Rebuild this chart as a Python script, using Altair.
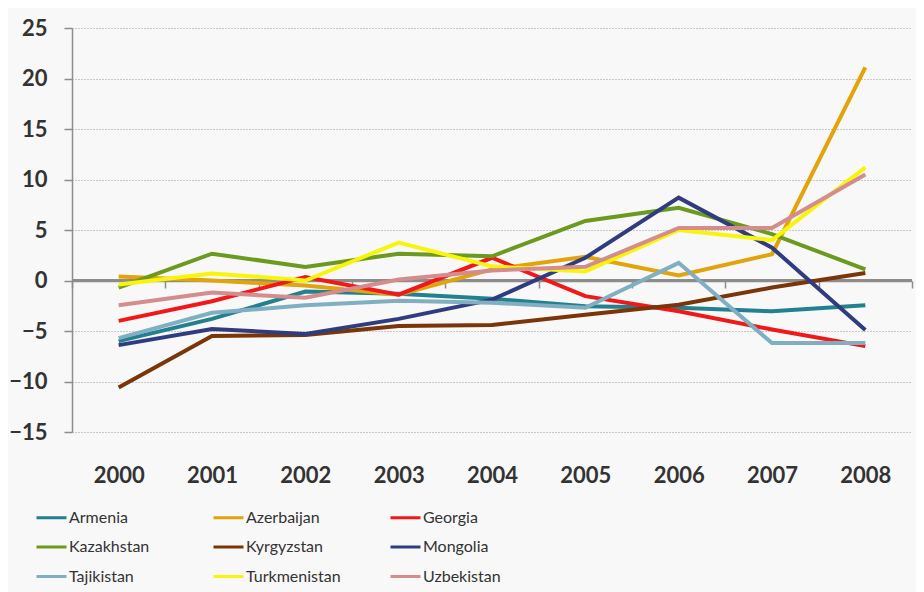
import altair as alt
import pandas as pd

years = ["2000", "2001", "2002", "2003", "2004", "2005", "2006", "2007", "2008"]
countries = ["Armenia", "Azerbaijan", "Georgia", "Kazakhstan", "Kyrgyzstan",
             "Mongolia", "Tajikistan", "Turkmenistan", "Uzbekistan"]
colors = ["#23808E", "#E3A30B", "#F01818", "#6B9A1F", "#7A3508",
          "#2F3D7E", "#7FAFC1", "#F8F40A", "#D48C8C"]

armenia = [-6.0, -3.8, -1.1, -1.3, -1.8, -2.55, -2.7, -3.05, -2.45]
azerbaijan = [0.4, 0.0, -0.5, -1.4, 1.1, 2.35, 0.5, 2.6, 21.1]
georgia = [-4.0, -2.05, 0.35, -1.4, 2.25, -1.55, -3.05, -4.85, -6.5]
kazakhstan = [-0.7, 2.65, 1.35, 2.65, 2.4, 5.9, 7.2, 4.6, 1.1]
kyrgyzstan = [-10.6, -5.5, -5.4, -4.5, -4.4, -3.4, -2.4, -0.7, 0.75]
mongolia = [-6.4, -4.8, -5.3, -3.8, -1.9, 2.25, 8.2, 3.25, -4.9]
tajikistan = [-5.7, -3.2, -2.45, -2.0, -2.2, -2.7, 1.75, -6.2, -6.2]
turkmenistan = [-0.4, 0.7, 0.0, 3.75, 1.4, 0.9, 5.0, 4.0, 11.2]
uzbekistan = [-2.45, -1.2, -1.7, 0.1, 1.0, 1.35, 5.2, 5.2, 10.5]

series = [armenia, azerbaijan, georgia, kazakhstan, kyrgyzstan,
          mongolia, tajikistan, turkmenistan, uzbekistan]

rows = []
for i, (c, vals) in enumerate(zip(countries, series)):
    for y, v in zip(years, vals):
        rows.append({"country": c, "year": y, "value": v, "order": i})
df = pd.DataFrame(rows)

FONT = "Lato"
AXIS_GREY = "#8c8c8c"

yscale = alt.Scale(domain=[-15, 25], nice=False)
y_axis = alt.Axis(title=None, values=list(range(-15, 30, 5)),
                  grid=True, gridColor="#9a9a9a", gridDash=[1, 2],
                  gridWidth=1, domainColor=AXIS_GREY, domainWidth=1.5,
                  tickColor=AXIS_GREY, tickSize=8, tickWidth=1.5,
                  labelPadding=17, labelFontSize=22, labelFont=FONT,
                  labelFontWeight="bold", labelColor="#333333")

zero_line = alt.Chart(df).mark_rule(color=AXIS_GREY, strokeWidth=1.5).encode(
    y=alt.YDatum(0, type="quantitative", scale=yscale, axis=y_axis),
)

lines = alt.Chart(df).mark_line(strokeWidth=4).encode(
    x=alt.X("year:N", sort=years, scale=alt.Scale(paddingInner=0, paddingOuter=0),
            axis=alt.Axis(title=None, orient="bottom", labelAngle=0, grid=False,
                          offset=-151, domain=True, domainColor=AXIS_GREY,
                          domainWidth=1.5, ticks=True, tickBand="extent",
                          tickColor=AXIS_GREY, tickSize=7, tickWidth=1.5,
                          labelPadding=177, labelFontSize=22, labelFont=FONT,
                          labelFontWeight="bold", labelColor="#333333")),
    y=alt.Y("value:Q", scale=yscale, axis=y_axis),
    color=alt.Color("country:N", sort=countries,
                    scale=alt.Scale(domain=countries, range=colors),
                    legend=alt.Legend(title=None, orient="none", legendX=-37,
                                      legendY=473, direction="horizontal",
                                      columns=3, gridAlign="all",
                                      columnPadding=43, rowPadding=4.5,
                                      symbolType="stroke", symbolSize=900,
                                      symbolStrokeWidth=3, labelOffset=1,
                                      labelFontSize=16, labelFont=FONT,
                                      labelColor="#333333")),
    order=alt.Order("order:Q"),
)

chart = alt.layer(zero_line, lines).properties(
    width=840, height=404,
    autosize=alt.AutoSizeParams(type="none"),
    padding={"left": 64, "top": 20, "right": 4, "bottom": 160},
    background="#f8f8f8",
).configure_view(stroke=None)

chart.save("out.html", embed_options={"renderer": "svg", "actions": False})
